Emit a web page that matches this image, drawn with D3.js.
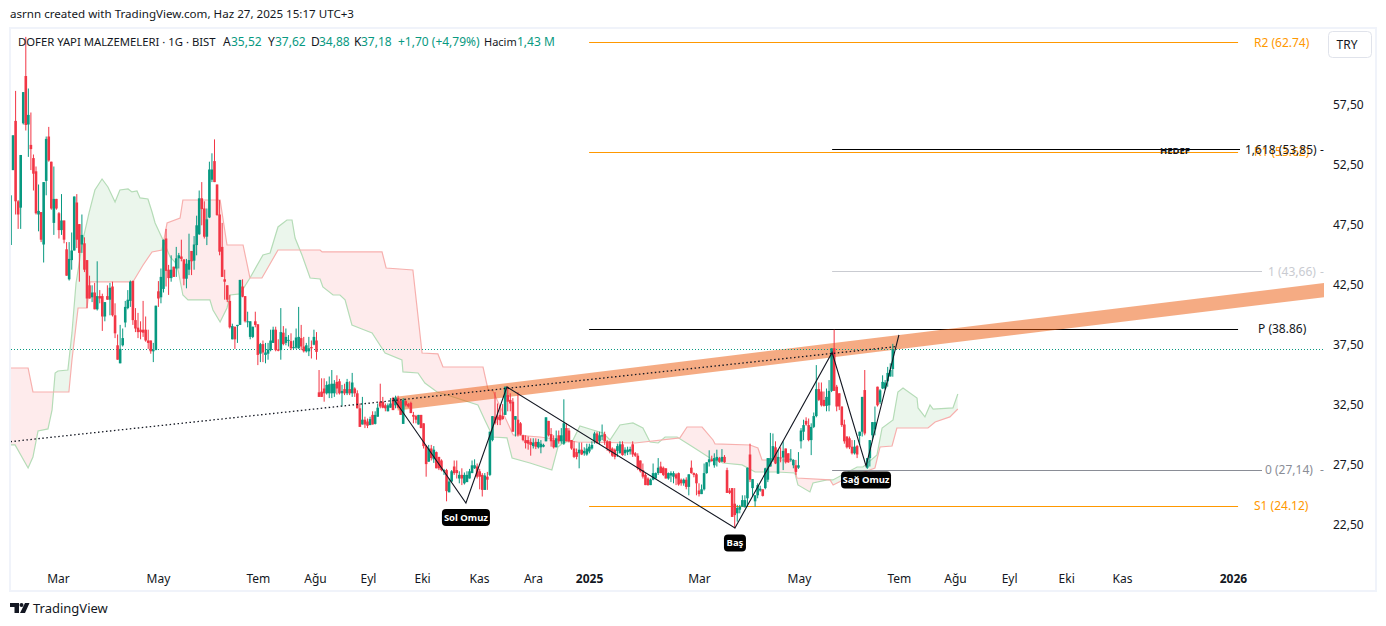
<!DOCTYPE html>
<html>
<head>
<meta charset="utf-8">
<title>DOFER</title>
<script src="https://cdn.jsdelivr.net/npm/d3@7"></script>
<style>
  html, body { margin: 0; padding: 0; background: #fff; }
  svg { display: block; }
  text { font-family: "Noto Sans", sans-serif; }
</style>
</head>
<body>
<svg id="chart" width="1386" height="626"></svg>
<script>
// daily bars, each row is open, high, low, close
const feb24 = [
  [45.86,50,45.86,50],[52.1,55,52.1,55],[56.2,58.7,48.4,49.5],[49.5,49.6,47.2,48.4],[48.97,53.36,47.2,53.36],
  [56,58.6,55.9,58.6],[59.94,63.2,55.4,55.86],[55.9,58.9,53.2,56.7],[54.2,56.9,52.1,53.85],[53.1,53.4,50.4,51.8],
  [52,52.4,48.4,48.5],[48.4,50.9,47,48.7],[48.6,48.6,46.1,46.3],[45.9,51.1,44.4,51.1],[51.2,54.9,50,54.7],
  [54.9,55.7,52.8,52.9],[52.8,52.8,48.8,48.9],[47.7,52.4,46.7,49.7]
];
const mar24 = [
  [49.7,49.7,48.8,48.9],[48.5,48.6,46.4,47.1],[47.1,50.1,46.7,47.9],[47.9,47.9,46,46.3],[45.5,46.1,43.3,43.3],
  [43,46.1,42.9,44.7],[44.6,46.9,43.8,45.4],[45.4,49.9,45.4,49.9],[49.4,50.1,45.6,46.3],[47.6,47.6,42.8,45.2],
  [45.9,48.4,45.2,46.7],[46,46.5,43.6,43.8],[44.6,44.6,40.6,41.4],[42.5,43.3,41.4,41.4],[41.5,42.5,41.1,41.9],
  [41.9,42.7,40.5,40.5],[40.5,44.5,40.4,41.6],[41.6,42.1,41,41.4],[41.6,41.8,38.7,39.9],[39.9,41.1,39.5,41.1],
  [41.6,42.5,41.3,41.3]
];
const apr24 = [
  [41.3,42.7,40,42.3],[42.4,42.8,39.9,40],[40,41,38.1,38.5],[37.5,38.4,36.3,36.3],[36,39.2,36,37.2],
  [37.5,38.9,37.4,38.1],[39.4,41.2,39,40.7],[40.6,42.1,40.5,41.3],[41.2,42.9,40.7,42.8],[42.86,42.9,39.2,39.6],
  [39.6,40.6,38.6,38.9],[38.97,40.2,38.1,38.6],[38.8,39.5,38,38.6],[38.8,41.2,38.2,38.55],[38.8,39.9,37.8,37.9],
  [37.9,38.8,37.2,37.7],[37.9,37.9,36.8,37],[37,37.7,36.1,37.1],[37.1,40.8,37.1,40.8]
];
const mayJun24 = [
  [42,42.85,40.7,41.4],[41.5,43.9,41,43.2],[42.2,46.3,41.9,46.3],[46.4,47.2,42.4,43.7],[43.8,44.2,41.7,43.1],
  [43.1,45,42.8,43.8],[44.05,44.05,43.2,43.2],[43.9,45.7,43.2,44.75],[44.75,45.2,43.9,45],[44.9,46.3,44.5,44.7],
  [44.66,44.66,42.5,43.05],[43.05,44.7,42.25,44.3],[43.8,46.8,43.35,44.6],[45.36,45.36,43.35,44.5],[44.55,46.6,43.8,45.9],
  [45.85,48.3,45,47.5],[46.75,50.4,46.7,49.75],[49.75,51.1,47.5,48.85],[48.9,49.5,46.4,46.55],[46.55,48.9,45.85,48],
  [48.15,52.8,48.1,52.15],[51.3,53.5,51.1,52.15],[52.85,54.66,51.1,51.1],[50.9,50.9,48.3,48.35],[48.4,49.6,45,45.3],
  [45.7,47.7,43.2,43.2],[43,43.8,41.3,42.8],[42.5,42.5,41.1,41.3],[41.2,41.7,38.9,39],[38,39.3,38,39.1],
  [39.05,39.05,37.2,38],[39.1,39.2,37.7,39.2],[39.2,42.95,39.2,42.95],[42.4,43,41.5,41.55],[41.6,41.6,39.4,39.5],
  [39.5,40.3,39,39.5],[38.2,39.5,38,39.5],[38.2,39.05,38.1,39.05],[39.5,40.3,39,39.2]
];
const jul24 = [
  [39.25,39.25,35.85,36.7],[36.8,37.7,36.1,37.6],[37.6,37.9,36.1,36.9],[36.7,37.7,36,36.9],[36.8,37.7,36.3,37.15],
  [37.1,38.8,37,37.9],[37.7,39.05,37.7,38.8],[38.8,39.05,37,37.1],[37.15,38,37,37.05],[37.1,40.6,36.3,38.6],
  [38.55,39.1,37.5,37.6],[37.7,38.9,37.5,38.2],[37.9,38.35,37.4,37.95],[37.85,38.5,37.1,37.25],[37.3,37.9,37.2,37.35],
  [37.3,38.9,37.2,38.15],[37.25,40.7,37.2,38.2],[38.1,39.2,37.1,37.4],[37.4,38.2,36.9,37],[37,37.7,36.9,37.5],
  [37,38.2,36.6,37.25],[37.35,37.9,36.4,37.25],[37.55,38.8,37.5,38.2]
];
const aug24 = [
  [37.9,38.6,36.3,36.95],[33.58,35.44,33.2,33.2],[33.64,34.75,33.2,33.2],[33.9,34.75,32.8,33.5],[33.5,34.5,33.4,34.2],
  [33.5,34.9,33.1,34.25],[33.5,35.44,33.1,34.3],[33.5,34.6,33.2,34.3],[34.45,35,33.4,33.9],[34.5,34.7,33.4,33.5],
  [33.5,34.2,32.4,33.7],[33.85,34.3,33.35,33.5],[33.5,34.7,33.35,34.45],[33.85,34.5,33.35,33.5],[33.5,35.2,33.2,34.4],
  [33.9,34,33.2,33.5],[33.5,33.75,32.25,32.25],[32.25,32.65,30.7,30.7],[30.9,33.2,30.9,31.3],[31.3,31.55,30.6,30.9],
  [31.15,31.4,30.6,30.8]
];
const sep24 = [
  [30.85,31.55,30.85,31.35],[31.7,32,30.9,30.9],[30.95,32,30.9,31.7],[31.55,32.65,31.55,32.3],[32.8,34.3,32.25,32.4],
  [32.8,33.2,32.25,32.3],[32.5,32.65,32,32.25],[32,32.65,32,32.5],[32.3,33.1,32.3,32.65],[33.1,33.2,32.1,32.1],
  [32.5,33.3,32.25,33.15],[33.1,33.3,32.25,32.3],[32.85,33,31.7,31.7],[30.95,33.1,30.95,32.95],[32.85,33,32.4,32.5],
  [32.6,32.7,32.3,32.4],[32.7,32.8,31.85,31.85],[31.7,31.95,31,31.55],[31.6,31.7,31,31.3],[30.9,31.7,30.9,31.7],
  [31.7,31.7,30.6,30.6]
];
const oct24 = [
  [31,31,28.9,29.1],[29.1,29.2,26.55,27.6],[27.8,29.2,27.8,28.9],[28.9,29.2,27.9,28.1],[28,29.1,27.7,28.8],
  [28.6,28.65,27.25,27.25],[28.2,28.2,27.1,27.25],[27.9,28,27,27.1],[27,27.2,26.7,27.1],[27.1,27.2,24.5,25.35],
  [25.25,26.4,25.25,26.15],[26.15,27.1,26.1,27],[27.4,27.9,26.7,26.85],[27.1,27.9,26.4,26.85],[26.4,27,26,26.7],
  [26.7,27.25,25.85,26.4],[26,26.9,25.9,26.7],[26.1,27,26.1,26.7],[26.4,27.2,26.4,27],[26.85,27.9,26.85,27.5],
  [27.25,28,27.2,27.5],[27.4,27.65,26.4,26.55]
];
const nov24 = [
  [27,27.2,25.5,26.55],[26.7,26.85,24.9,25.45],[25.45,26.85,25.45,26.65],[26.55,26.95,25.45,26.3],[26.7,30.3,26.6,30.3],
  [29.6,31.6,29.5,31.6],[31.55,33.6,30.9,31],[31.55,32.65,30.85,31.3],[31.7,32.5,30.85,31.25],[31.6,32.6,31.3,31.35],
  [31.7,34.05,31.7,34.05],[33.35,34.05,32,32.8],[32.95,33.5,32,32.65],[32.8,33.1,30.3,30.3],[31.3,31.6,29.9,31.6],
  [31.3,33.6,29.9,30.05],[31,31.1,30,30.05],[30,30.05,29.5,29.6],[29.6,30,28.9,29.35],[29.6,29.9,28.8,29.3],
  [29.45,29.75,28.3,29.2]
];
const dec24 = [
  [29.1,29.75,28.9,29.4],[29.45,29.75,28.85,29.05],[29,29.7,28.9,29.45],[29,29.6,28.5,29.3],[29.05,29.3,29,29.2],
  [29.5,31.5,29.5,31.5],[31.2,31.2,29.9,30],[30.1,30.6,29.05,29.5],[29.6,30,28.9,29],[29,30.4,29,29.75],
  [30,30.4,29.3,29.5],[29.5,30.6,29.3,30],[29.3,33,29.2,31],[30.6,31,29.5,29.5],[30.4,30.6,29.4,29.5],
  [29.6,29.6,28.8,28.9],[28.9,29.5,28.1,28.2],[28.6,28.9,28,28.2],[28.5,29.4,27.25,28.8],[28.8,29.4,28.35,28.4],
  [28.5,29,28.3,28.7],[28.4,29.3,28.3,28.9]
];
const janFeb25 = [
  [28.65,29.3,28.5,29.05],[28.9,29.5,28.8,29.2],[29.5,30.3,29.3,30.15],[30.15,30.3,29.3,29.35],[29.5,30.3,29.25,30],
  [29.9,30.9,29.6,30],[30.1,30.3,29.2,29.5],[29.5,29.6,28.7,28.9],[29.5,29.5,28.5,28.65],[28.9,29,28.2,28.3],
  [28.8,28.9,28,28.2],[28.7,29.3,28.2,29.1],[28.5,29.5,28.5,29.25],[29.25,29.5,28.3,28.35],[28.5,29,28.3,28.8],
  [28.6,29.05,28.35,28.8],[28.65,29.05,28.4,28.85],[29.25,29.5,28.2,28.4],[28.5,28.6,28.2,28.3],[28.3,28.5,27.1,27.25],
  [27.9,27.9,26.9,27],[27.1,27.65,26.4,26.55],[26.7,26.85,25.85,25.85],[26.4,26.5,25.8,25.85],[25.85,26.4,25.85,26.3],
  [26.3,27.65,26.25,26.85],[26.4,26.9,26.4,26.85],[26.85,28.1,26.7,27.3],[27.4,27.8,26.85,26.85],[27.3,27.4,26.6,26.7],
  [27.25,27.25,26.4,26.4],[26.4,26.9,26.3,26.85],[26.65,27,26.1,26.85],[26.55,27,26,26.85],[26.75,26.85,25.85,26.4],
  [26.85,26.9,25.8,25.9],[26.3,26.4,25.8,26],[26,26.4,25.8,26.3],[26.3,26.5,25.5,25.7],[25.7,26.75,25,26.75],
  [27.3,27.9,26.8,26.85],[26.85,26.9,26.5,26.7],[26.75,26.85,25,26]
];
const marApr25 = [
  [25.4,26,24.9,25.1],[25.1,25.9,25.1,25.5],[25.5,27.65,25.4,26.85],[26.85,27.75,26.8,27.75],[27.75,28.75,27.4,28],
  [28,28.3,27.8,27.85],[27.5,28.5,27.3,28.1],[27.9,28.8,27.4,28.2],[28.1,28.2,27.7,27.8],[27.8,28.85,27.8,28.2],
  [28.2,28.35,27.7,27.75],[27.1,27.3,25.2,25.2],[25.4,25.6,25.1,25.2],[25.6,25.6,23.2,23.2],[24.3,25.6,22.25,23.35],
  [23.5,24.2,22.8,23.95],[23.8,24.2,23.5,24.05],[24.05,25,24.05,24.6],[24,25,24,24.6],[24.75,27.3,24.05,27.3],
  [28.4,29.3,26.1,26.3],[25.6,26.35,24.9,26.35],[24.5,25,24.05,25],[25,26,24.75,25.85],[25.4,25.8,25.3,25.55],
  [25.5,25.5,24.9,24.95],[25.6,27.3,25.5,27.25],[26.3,28.1,26.1,28.1],[27.4,30.2,27.4,28.1],[27.95,30.15,27.8,29.1],
  [29,29.5,27.6,27.65],[26.8,28.8,26.8,28.2],[28.15,29,27.75,28.1],[28.15,29.5,27.1,28.7],[28.9,28.9,27.65,27.75],
  [28.5,28.5,27.7,27.75],[28,28.85,27.8,28.05],[27.5,28,27.25,27.95],[27.5,27.95,26.7,26.95]
];
const mayJun25 = [
  [27.3,28.6,27.2,27.5],[29.5,30.6,28.9,30.4],[30.3,31.3,29.6,30.85],[31.2,31.5,30.8,30.9],[30.85,31.4,29.5,29.6],
  [29.6,31,28.35,30.7],[30.7,31.9,30.6,31.6],[31.6,35.85,31.5,33.85],[33.85,34.4,32.85,32.95],[33.65,34.4,32.4,32.5],
  [32.95,33.65,32.4,32.45],[32.45,33.9,32,33.2],[32.5,34.6,32,33.7],[33.7,37.25,33.6,37.25],[37.25,38.8,33.7,33.7],
  [34.05,34.2,32,32.4],[33.5,33.5,32.1,32.4],[32.4,32.4,30.7,30.85],[30.9,31.3,29.3,29.5],[29.9,29.9,28.9,29],
  [29.75,29.9,28.85,29],[29.05,29.6,28.4,28.5],[28.5,29.6,28.4,29.05],[29.1,29.2,28.1,28.4],[29.95,30.3,29.2,30.3],
  [30.3,33.2,29.9,33.2],[33.77,35.44,30,30.15],[27.3,28.1,27.2,28.1],[28.1,29.6,27.4,29.6],[30,31.1,29.6,31.1],
  [30.5,32.4,30,31.1],[34.05,34.05,32.4,32.5],[32.75,33.85,32.6,33.75],[33.9,35,33.85,34.45],[33.9,34.6,33.8,34.4],
  [34.5,35.7,34.05,35.2],[34.9,36,34.9,35.45],[35.52,37.62,34.88,37.18]
];
const candles = [].concat(feb24, mar24, apr24, mayJun24, jul24, aug24, sep24, oct24, nov24, dec24, janFeb25, marApr25, mayJun25);

// ichimoku spans as [bar, price]
const spanA = [
  [0,29.2],[1.8,29.2],[6.9,27.28],[8.8,28.19],[10.8,30.36],[14.7,30.53],[16.3,32.11],[17.5,35.19],[18.6,35.36],[22.5,35.44],
  [24.1,38.53],[25.7,42.69],[28.4,46.28],[30.8,48.53],[33.1,50.44],[35.9,51.36],[38.2,50.69],[41,49.44],[42.9,50.44],[46.1,50.53],
  [47.6,50.28],[49.6,50.36],[50.8,49.78],[53.9,49.69],[55.5,48.61],[56.7,47.69],[59.8,46.28],[62.6,44.86],[64.5,44.44],[65.7,43.78],
  [67.6,41.69],[69.6,41.28],[78.2,41.28],[79.4,40.44],[82.2,39.44],[84.9,40.61],[86.1,41.69],[90,41.78],[93.9,43.11],[99,45.03],
  [101.8,45.19],[104.9,47.36],[108.4,47.94],[110.4,47.94],[111.6,46.44],[114.3,45.03],[117.5,43.11],[121.4,43.03],[122.5,42.36],[126.5,41.69],
  [129.2,41.69],[131.2,41.28],[133.9,39.19],[137.8,38.86],[141.8,38.53],[146.9,36.86],[153.5,36.28],[153.9,35.28],[159.8,35.19],[162.5,34.36],
  [167.3,33.61],[171.2,33.36],[183.3,32.53],[186,31.28],[189.2,29.86],[194.7,29.78],[196.7,28.11],[203.7,27.69],[212.3,27.11],[214.7,29.03],
  [216.7,29.36],[220.6,29.61],[223.3,30.78],[228.4,30.44],[232.4,30.19],[235.1,29.61],[239,30.86],[244.1,31.03],[248,30.61],[250.8,29.44],
  [254,29.36],[256.7,29.86],[261.4,29.86],[267.6,29.03],[274.3,28.11],[279.4,27.69],[286.9,27.53],[292,26.94],[300.6,26.94],[307.6,26.86],
  [308.8,25.86],[313.5,25.28],[314.7,26.03],[320.2,26.28],[322.5,26.28],[332,27.36],[334.3,27.36],[339.8,28.36],[341.8,30.61],[346.1,31.28],
  [348,33.61],[350,33.94],[355.5,33.11],[355.9,32.28],[358.6,31.53],[360.6,32.53],[361.8,32.19],[369.6,32.28],[371.5,33.44]
];
const spanB = [
  [0,35.61],[6.9,35.61],[8.8,33.61],[22.9,33.61],[24.1,36.28],[26.5,40.61],[30,40.61],[31.2,42.78],[48,42.78],[52,44.19],
  [55.5,45.28],[59.4,45.44],[61.4,47.69],[66.5,48.11],[67.6,49.61],[82.2,49.61],[84.9,45.86],[91.2,45.86],[93.9,43.11],[98.6,43.11],
  [104.9,45.44],[121.4,45.44],[122.2,45.28],[145.7,45.28],[147.3,43.94],[157.8,43.78],[161.4,36.86],[167.6,36.78],[169.6,35.69],[185.3,35.69],
  [187.3,33.78],[189.2,33.69],[197.1,30.03],[207.6,29.86],[222.2,29.44],[244.9,29.36],[262.5,29.78],[265.3,30.69],[271.2,30.69],[275.5,29.61],
  [276.3,29.28],[290,29.19],[293.1,28.94],[294.7,27.94],[306.9,27.94],[308.4,26.44],[321.4,26.28],[322.6,25.86],[326.5,26.28],[339,27.28],
  [341,29.03],[345.7,29.11],[347.6,30.61],[359.8,30.61],[362.6,31.11],[368.4,31.53],[371.5,32.19]
];

// head and shoulders zigzag as [bar, price]
const zigzag = [[150,33.11],[178.6,24.36],[194.7,34.03],[284.1,22.27],[322.2,36.9],[335.5,27.44],[348.4,38.36]];
const trendDots = [[0,29.47],[347.6,37.4]];
const bandLine = [[151.5,32.64],[535,42.62]];

const pivotNames = ["R2", "R1", "P", "S1"];
const pivotValues = [62.74, 53.62, 38.86, 24.12];
const fibNames = ["1,618", "1", "0"];
const fibValues = [53.85, 43.66, 27.14];
const patternLabels = ["Sol Omuz", "Baş", "Sağ Omuz"];
const lastClose = 37.18;

const yTicks = [57.5, 52.5, 47.5, 42.5, 37.5, 32.5, 27.5, 22.5];
const xTickBars = [18.6, 57.8, 97, 119.4, 140.2, 161.4, 183.7, 204.9, 226.9, 270, 309.2, 348.4, 370.4, 391.6, 414, 435.9, 479.4];
const xTickNames = ["Mar", "May", "Tem", "Ağu", "Eyl", "Eki", "Kas", "Ara", "2025", "Mar", "May", "Tem", "Ağu", "Eyl", "Eki", "Kas", "2026"];

const up = "#089981", down = "#f23645", ink = "#131722", orange = "#ff9800";
const fontStack = '"Noto Sans", sans-serif';

const svg = d3.select("#chart");
const x = d3.scaleLinear().domain([0, 346]).range([10.5, 892.8]);
const y = d3.scaleLinear().domain([22.5, 57.5]).range([525.3, 105.3]);
const crisp = v => Math.round(y(v)) + 0.5;

svg.append("rect").attr("x", 10).attr("y", 28).attr("width", 1366).attr("height", 563)
  .attr("fill", "#fff").attr("stroke", "#f0f3fa").attr("stroke-width", 2);

svg.append("clipPath").attr("id", "pane").append("rect")
  .attr("x", 11).attr("y", 29).attr("width", 1313).attr("height", 561);

const pane = svg.append("g").attr("clip-path", "url(#pane)");

// cloud: fill between the spans, split green/red with a clip on spanB
const line = d3.line().x(d => x(d[0])).y(d => y(d[1]));
const between = line(spanA) + "L" + line(spanB.slice().reverse()).slice(1) + "Z";
const first = spanB[0], last = spanB[spanB.length - 1];
const aboveB = line(spanB) + `L${x(last[0])},0L${x(first[0])},0Z`;
const belowB = line(spanB) + `L${x(last[0])},626L${x(first[0])},626Z`;
svg.append("clipPath").attr("id", "aboveB").append("path").attr("d", aboveB);
svg.append("clipPath").attr("id", "belowB").append("path").attr("d", belowB);
pane.append("g").attr("clip-path", "url(#aboveB)").append("path").attr("d", between).attr("fill", "#4caf50").attr("opacity", 0.11);
pane.append("g").attr("clip-path", "url(#belowB)").append("path").attr("d", between).attr("fill", "#f23645").attr("opacity", 0.1);
pane.append("path").attr("d", line(spanA)).attr("fill", "none").attr("stroke", "#b5dcb7").attr("stroke-width", 1.2);
pane.append("path").attr("d", line(spanB)).attr("fill", "none").attr("stroke", "#f7b0ae").attr("stroke-width", 1.2);

// pivots
pivotValues.forEach((v, i) => {
  const c = pivotNames[i] === "P" ? "#000" : orange;
  pane.append("line").attr("x1", x(226.9)).attr("x2", x(481.4)).attr("y1", crisp(v)).attr("y2", crisp(v))
    .attr("stroke", c).attr("stroke-width", 1);
  pane.append("text").attr("x", pivotNames[i] === "P" ? 1258 : 1254).attr("y", y(v) + 4.5)
    .attr("fill", c === "#000" ? ink : orange).attr("font-size", 12)
    .text(`${pivotNames[i]} (${v.toFixed(2)})`);
});

// fib levels
const fibColors = ["#000", "#c9cbd1", "#8a8d96"];
const fibEnds = [1240, 1262, 1262];
const fibTextX = [1245, 1268, 1265];
fibValues.forEach((v, i) => {
  pane.append("line").attr("x1", x(322.2)).attr("x2", fibEnds[i]).attr("y1", crisp(v)).attr("y2", crisp(v))
    .attr("stroke", fibColors[i]).attr("stroke-width", 1);
  pane.append("text").attr("x", fibTextX[i]).attr("y", y(v) + 4.5)
    .attr("fill", i === 0 ? ink : fibColors[i]).attr("font-size", 12)
    .text(`${fibNames[i]} (${v.toFixed(2).replace(".", ",")})`);
  pane.append("text").attr("x", 1320).attr("y", y(v) + 4.5)
    .attr("fill", i === 0 ? ink : fibColors[i]).attr("font-size", 12).text("-");
});
pane.append("text").attr("x", 1175).attr("y", y(fibValues[0]) + 5).attr("text-anchor", "middle")
  .attr("font-size", 9.5).attr("font-weight", "bold").attr("fill", ink).text("HEDEF");

// orange channel
pane.append("path").attr("d", line(bandLine)).attr("stroke", "#eb5707").attr("stroke-opacity", 0.5)
  .attr("stroke-width", 14).attr("fill", "none");

// last price line
pane.append("line").attr("x1", 11).attr("x2", 1324).attr("y1", crisp(lastClose)).attr("y2", crisp(lastClose))
  .attr("stroke", up).attr("stroke-width", 1).attr("stroke-dasharray", "1 2");

// candles
const bars = pane.append("g").selectAll("g").data(candles).enter().append("g")
  .attr("fill", d => d[3] >= d[0] ? up : down)
  .attr("stroke", d => d[3] >= d[0] ? up : down);
bars.append("line")
  .attr("x1", (d, i) => x(i)).attr("x2", (d, i) => x(i))
  .attr("y1", d => y(d[1])).attr("y2", d => y(d[2]));
bars.append("rect")
  .attr("stroke", "none")
  .attr("x", (d, i) => x(i) - 1.3).attr("width", 2.6)
  .attr("y", d => y(Math.max(d[0], d[3])))
  .attr("height", d => Math.max(1, Math.abs(y(d[0]) - y(d[3]))));

// drawings over the candles
pane.append("path").attr("d", line(trendDots)).attr("fill", "none").attr("stroke", ink)
  .attr("stroke-width", 1.3).attr("stroke-dasharray", "1.5 2.5");
pane.append("path").attr("d", line(zigzag)).attr("fill", "none").attr("stroke", ink).attr("stroke-width", 1.1);

// pattern labels, hung under the zigzag pivots
const labelBars = [178.6, 284.1, 335.5];
const labelPrices = [24.36, 22.27, 27.44];
const labelDy = [14.5, 15, 14];
const labelW = [48, 22, 50];
patternLabels.forEach((t, i) => {
  const cx = x(labelBars[i]), cy = y(labelPrices[i]) + labelDy[i];
  pane.append("rect").attr("x", cx - labelW[i] / 2).attr("y", cy - 8.5)
    .attr("width", labelW[i]).attr("height", 17).attr("rx", 4).attr("fill", "#000");
  pane.append("text").attr("x", cx).attr("y", cy + 3.2).attr("text-anchor", "middle")
    .attr("font-size", 9.5).attr("font-weight", "bold").attr("fill", "#fff").text(t);
});

// axes
const yAxis = d3.axisRight(y).tickValues(yTicks).tickSize(0)
  .tickFormat(v => v.toFixed(2).replace(".", ","));
const yG = svg.append("g").attr("transform", "translate(1333,-1)").call(yAxis);
yG.select(".domain").remove();
yG.selectAll("text").attr("x", 0).attr("fill", ink).attr("font-size", 12).attr("font-family", fontStack);

const xAxis = d3.axisBottom(x).tickValues(xTickBars).tickSize(0)
  .tickFormat((v, i) => xTickNames[i]);
const xG = svg.append("g").attr("transform", "translate(0,571)").call(xAxis);
xG.select(".domain").remove();
xG.selectAll("text").attr("fill", ink).attr("font-size", 12).attr("font-family", fontStack)
  .attr("font-weight", (v, i) => /^20/.test(xTickNames[i]) ? "bold" : "normal");

// header text
svg.append("text").attr("x", 10).attr("y", 18).attr("font-size", 11.6).attr("fill", ink)
  .text("asrnn created with TradingView.com, Haz 27, 2025 15:17 UTC+3");

const legendItems = [
  ["DOFER YAPI MALZEMELERI · 1G · BIST", 18, ink, 11.3],
  ["A", 223, ink, 12], ["35,52", 231, up, 12],
  ["Y", 268, ink, 12], ["37,62", 275, up, 12],
  ["D", 311, ink, 12], ["34,88", 319, up, 12],
  ["K", 354, ink, 12], ["37,18", 361, up, 12],
  ["+1,70 (+4,79%)", 398, up, 12],
  ["Hacim", 484, ink, 11], ["1,43 M", 517, up, 12]
];
svg.append("g").selectAll("text").data(legendItems).enter().append("text")
  .attr("x", d => d[1]).attr("y", 46).attr("font-size", d => d[3]).attr("fill", d => d[2]).text(d => d[0]);

// currency button
svg.append("rect").attr("x", 1328.5).attr("y", 31.5).attr("width", 43).attr("height", 26).attr("rx", 4)
  .attr("fill", "#fff").attr("stroke", "#e0e3eb");
svg.append("text").attr("x", 1347).attr("y", 49).attr("text-anchor", "middle").attr("font-size", 12).attr("fill", ink).text("TRY");

// footer logo
svg.append("path").attr("d", "M10 603H19V613H14.5V607H10Z M25 603H29.5L25 613H20Z").attr("fill", ink);
svg.append("circle").attr("cx", 21.5).attr("cy", 605).attr("r", 2).attr("fill", ink);
svg.append("text").attr("x", 33).attr("y", 613).attr("font-size", 13).attr("fill", ink).text("TradingView");
</script>
</body>
</html>
